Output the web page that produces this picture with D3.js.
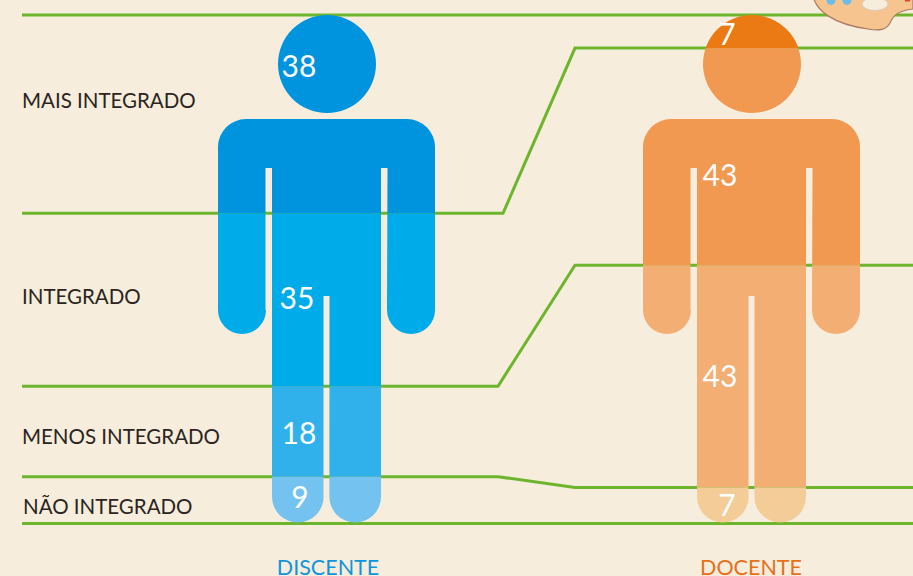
<!DOCTYPE html>
<html>
<head>
<meta charset="utf-8">
<script src="https://cdn.jsdelivr.net/npm/d3@7"></script>
<style>
  html, body { margin: 0; padding: 0; background: #f6eddc; overflow: hidden; }
  svg { display: block; }
  text { font-family: Lato, "Noto Sans", sans-serif; }
</style>
</head>
<body>
<svg id="chart" width="913" height="576"></svg>
<script>
var categories = ["MAIS INTEGRADO", "INTEGRADO", "MENOS INTEGRADO", "NÃO INTEGRADO"];
var groups = ["DISCENTE", "DOCENTE"];

// printed numbers
var discenteLabels = [38, 35, 18, 9];
var docenteLabels = [7, 43, 43, 7];

// band heights as drawn in the picture (they differ a bit from the printed numbers)
var discenteDrawn = [39, 34, 17.8, 9.2];
var docenteDrawn = [6.5, 42.7, 43.7, 7.1];

var discenteColors = ["#0094de", "#00abe9", "#30b1eb", "#74c2f0"];
var docenteColors = ["#eb7a14", "#f19950", "#f3ae74", "#f4cc98"];

var svg = d3.select("#chart");
var green = "#6cb52d";

var y = d3.scaleLinear().domain([0, 100]).range([15, 523.5]);
var x = d3.scaleOrdinal().domain(groups).range([327, 752]);

function edges (values) {
  var sum = 0;
  return [0].concat(values.map(v => sum += v));
}

var discenteEdges = edges(discenteDrawn);
var docenteEdges = edges(docenteDrawn);

// Green lines
var line = d3.line().x(d => d[0]).y(d => d[1]);
var knees = [null, [503, 575], [498, 575], [498, 575], null];

knees.forEach((k, i) => {
  var a = y(discenteEdges[i]);
  var b = y(docenteEdges[i]);
  var pts = k ? [[22, a], [k[0], a], [k[1], b], [913, b]] : [[22, a], [913, b]];
  svg.append("path")
    .attr("d", line(pts))
    .attr("fill", "none")
    .attr("stroke", green)
    .attr("stroke-width", 3);
});

// Palette in the corner
var palette = svg.append("g");
palette.append("path")
  .attr("d", "M813,-4 C816,10 832,24 868,29 C880,31 886,30 890,23 C893,16 897,11 913,9 L913,-4 Z")
  .attr("fill", "#f6c48f")
  .attr("stroke", "#a97a66")
  .attr("stroke-width", 1.2);
palette.append("ellipse").attr("cx", 831).attr("cy", 0).attr("rx", 4.5).attr("ry", 5).attr("fill", "#6cbcec");
palette.append("ellipse").attr("cx", 847).attr("cy", 0).attr("rx", 4.5).attr("ry", 5).attr("fill", "#6cbcec");
palette.append("ellipse").attr("cx", 875).attr("cy", 4).attr("rx", 13).attr("ry", 6.5)
  .attr("fill", "#f6eddc").attr("stroke", "#e0c8b4").attr("stroke-width", 1);
palette.append("rect").attr("x", 905).attr("y", 0).attr("width", 5).attr("height", 1.5).attr("fill", "#e8402a");

// Figure outline, relative to the centre line
function figurePath (cx) {
  var p = d3.path();
  var l = cx - 109, r = cx + 108;
  var top = 119, armEnd = 334, legEnd = 522.5;
  var gapTop = 168, crotch = 296;
  var armW = 47.5, armR = 24, legL = cx - 55, legR = cx + 54, legW = 51.5, legRad = 25.8;

  // head
  p.moveTo(cx + 49, 64);
  p.arc(cx, 64, 49, 0, Math.PI * 2);
  p.closePath();

  // body, clockwise from the left shoulder
  p.moveTo(l + 28, top);
  p.lineTo(r - 28, top);
  p.arcTo(r, top, r, top + 28, 28);
  p.lineTo(r, armEnd - armR);
  p.arc(r - armR, armEnd - armR, armR, 0, Math.PI);
  p.lineTo(r - armW, gapTop);
  p.lineTo(legR, gapTop);
  p.lineTo(legR, legEnd - legRad);
  p.arc(legR - legRad, legEnd - legRad, legRad, 0, Math.PI);
  p.lineTo(legR - legW, crotch);
  p.lineTo(legL + legW, crotch);
  p.lineTo(legL + legW, legEnd - legRad);
  p.arc(legL + legRad, legEnd - legRad, legRad, 0, Math.PI);
  p.lineTo(legL, gapTop);
  p.lineTo(l + armW, gapTop);
  p.lineTo(l + armW, armEnd - armR);
  p.arc(l + armR, armEnd - armR, armR, 0, Math.PI);
  p.lineTo(l, top + 28);
  p.arcTo(l, top, l + 28, top, 28);
  p.closePath();
  return p.toString();
}

var figures = [
  { name: groups[0], edges: discenteEdges, colors: discenteColors, labels: discenteLabels, titleX: 328,
    labelPos: [[299, 66], [297, 298], [299, 433], [300, 497]], titleColor: "#0f95d8" },
  { name: groups[1], edges: docenteEdges, colors: docenteColors, labels: docenteLabels, titleX: 751,
    labelPos: [[727, 34], [720, 175], [720, 376], [727, 505]], titleColor: "#e8701a" }
];

figures.forEach((f, n) => {
  var cx = x(f.name);

  svg.append("clipPath").attr("id", "clip" + n)
    .append("path").attr("d", figurePath(cx));

  svg.append("g").attr("clip-path", "url(#clip" + n + ")")
    .selectAll("rect")
    .data(f.colors)
    .join("rect")
    .attr("x", cx - 115)
    .attr("width", 230)
    .attr("y", (d, i) => y(f.edges[i]))
    .attr("height", (d, i) => y(f.edges[i + 1]) - y(f.edges[i]))
    .attr("fill", d => d);

  svg.append("g").selectAll("text")
    .data(f.labels)
    .join("text")
    .attr("x", (d, i) => f.labelPos[i][0])
    .attr("y", (d, i) => f.labelPos[i][1])
    .attr("dy", "0.35em")
    .attr("text-anchor", "middle")
    .attr("font-size", 30)
    .attr("fill", "#fff")
    .text(d => d);

  svg.append("text")
    .attr("x", f.titleX)
    .attr("y", 575)
    .attr("text-anchor", "middle")
    .attr("font-size", 21.5)
    .attr("fill", f.titleColor)
    .text(f.name);
});

// Category labels on the left
var labelY = [101, 297, 437, 507];
var labelX = [22, 22, 22, 23];
svg.append("g").selectAll("text")
  .data(categories)
  .join("text")
  .attr("x", (d, i) => labelX[i])
  .attr("y", (d, i) => labelY[i])
  .attr("dy", "0.35em")
  .attr("font-size", 20.5)
  .attr("fill", "#2b2420")
  .text(d => d);
</script>
</body>
</html>
